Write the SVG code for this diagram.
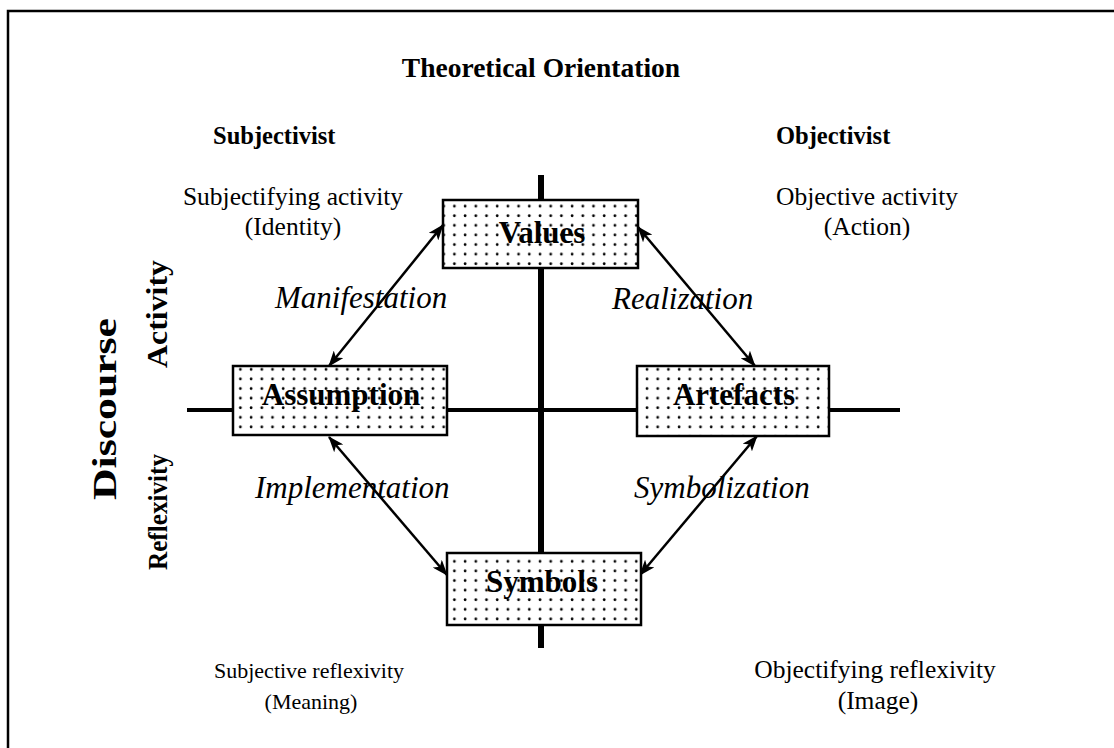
<svg xmlns="http://www.w3.org/2000/svg" width="1114" height="748" viewBox="0 0 1114 748">
  <defs>
    <pattern id="dots" x="0" y="0" width="10.7" height="9.6" patternUnits="userSpaceOnUse">
      <circle cx="5" cy="4.5" r="1.4" fill="#000"/>
    </pattern>
    <marker id="head" viewBox="0 0 16 12" refX="15" refY="6" markerWidth="16" markerHeight="12" markerUnits="userSpaceOnUse" orient="auto-start-reverse">
      <path d="M0,0 L16,6 L0,12 L4,6 Z" fill="#000"/>
    </marker>
  </defs>
  <style>
    .t { font-family: "Liberation Serif", "Times New Roman", serif; fill: #000; }
    .b { font-weight: bold; }
    .i { font-style: italic; font-size: 31px; }
    .s { font-size: 25.5px; text-anchor: middle; }
    .s2 { font-size: 22px; text-anchor: middle; }
    .box { fill: url(#dots); stroke: #000; stroke-width: 2.5; }
    .boxbg { fill: #fff; }
    .lbl { font-family: "Liberation Serif", "Times New Roman", serif; font-weight: bold; font-size: 31px; text-anchor: middle; }
    .conn { stroke: #000; stroke-width: 2.5; fill: none; marker-start: url(#head); marker-end: url(#head); }
  </style>

  <rect width="1114" height="748" fill="#fff"/>
  <!-- outer frame -->
  <path d="M8,760 L8,11 L1120,11" fill="none" stroke="#000" stroke-width="2.5"/>

  <!-- headings -->
  <text class="t b" x="541" y="77" font-size="27.5" text-anchor="middle">Theoretical Orientation</text>
  <text class="t b" x="213" y="144" font-size="24.5">Subjectivist</text>
  <text class="t b" x="776" y="144" font-size="24.5">Objectivist</text>

  <text class="t s" x="293" y="205">Subjectifying activity</text>
  <text class="t s" x="293" y="235">(Identity)</text>
  <text class="t s" x="867" y="205">Objective activity</text>
  <text class="t s" x="867" y="235">(Action)</text>

  <text class="t s2" x="309" y="678">Subjective reflexivity</text>
  <text class="t s2" x="311" y="709">(Meaning)</text>
  <text class="t s" x="875" y="678">Objectifying reflexivity</text>
  <text class="t s" x="878" y="709">(Image)</text>

  <!-- vertical side labels -->
  <text class="t b" font-size="34" text-anchor="middle" textLength="182" lengthAdjust="spacingAndGlyphs" transform="translate(116,409) rotate(-90)">Discourse</text>
  <text class="t b" font-size="30" text-anchor="middle" textLength="108" lengthAdjust="spacingAndGlyphs" transform="translate(167,314) rotate(-90)">Activity</text>
  <text class="t b" font-size="28" text-anchor="middle" textLength="116" lengthAdjust="spacingAndGlyphs" transform="translate(167,512) rotate(-90)">Reflexivity</text>

  <!-- axes -->
  <g id="axes">
    <line x1="541" y1="175" x2="541" y2="648" stroke="#000" stroke-width="6"/>
    <line x1="187" y1="410" x2="900" y2="410" stroke="#000" stroke-width="4"/>
  </g>

  <!-- connectors -->
  <g id="connectors">
    <line class="conn" x1="443" y1="225" x2="329" y2="366"/>
    <line class="conn" x1="638" y1="227" x2="755" y2="366"/>
    <line class="conn" x1="329" y1="437" x2="447" y2="575"/>
    <line class="conn" x1="757" y1="436" x2="640" y2="575"/>
  </g>

  <!-- connector labels -->
  <text class="t i" x="275" y="308">Manifestation</text>
  <text class="t i" x="612" y="309">Realization</text>
  <text class="t i" x="255" y="498">Implementation</text>
  <text class="t i" x="634" y="498">Symbolization</text>

  <!-- nodes -->
  <g id="values">
    <rect class="boxbg" x="443" y="200" width="195" height="68"/>
    <rect class="box" x="443" y="200" width="195" height="68"/>
    <text class="lbl" x="542" y="243">Values</text>
  </g>
  <g id="assumption">
    <rect class="boxbg" x="233" y="366" width="214" height="69"/>
    <rect class="box" x="233" y="366" width="214" height="69"/>
    <text class="lbl" x="341" y="405">Assumption</text>
  </g>
  <g id="artefacts">
    <rect class="boxbg" x="637" y="366" width="192" height="70"/>
    <rect class="box" x="637" y="366" width="192" height="70"/>
    <text class="lbl" x="734" y="405">Artefacts</text>
  </g>
  <g id="symbols">
    <rect class="boxbg" x="447" y="553" width="194" height="72"/>
    <rect class="box" x="447" y="553" width="194" height="72"/>
    <text class="lbl" x="542" y="592">Symbols</text>
  </g>
</svg>
